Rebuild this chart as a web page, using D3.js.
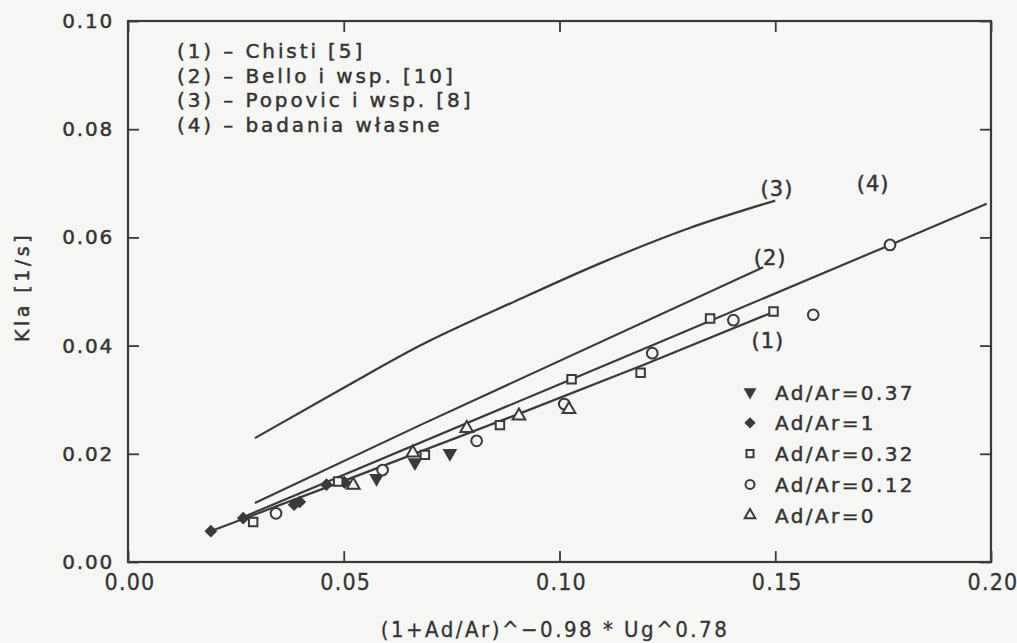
<!DOCTYPE html>
<html><head><meta charset="utf-8">
<script src="https://cdn.jsdelivr.net/npm/d3@7"></script>
<style>
html,body{margin:0;padding:0;background:#f6f6f4;}
svg{display:block;}
.t{font-family:"DejaVu Sans",sans-serif;fill:#333;stroke:#333;stroke-width:0.45px;}
.c{font-family:"Liberation Sans Narrow","DejaVu Sans Condensed","Liberation Sans",sans-serif;fill:#333;stroke:#333;stroke-width:0.3px;}
</style></head>
<body>
<svg id="chart" width="1017" height="643"></svg>
<script>
// ---- data ----
const xTicks = [0, 0.05, 0.10, 0.15, 0.20];
const yTicks = [0, 0.02, 0.04, 0.06, 0.08, 0.10];
const xTitle = "(1+Ad/Ar)^\u22120.98 * Ug^0.78";
const yTitle = "Kla [1/s]";

const refLegend = ["(1) \u2013 Chisti [5]", "(2) \u2013 Bello i wsp. [10]", "(3) \u2013 Popovic i wsp. [8]", "(4) \u2013 badania w\u0142asne"];

// correlation lines
const chistiX = [0.0192, 0.050, 0.090, 0.120, 0.1495];
const chistiY = [0.0057, 0.0150, 0.0272, 0.0366, 0.0462];
const belloX = [0.0294, 0.0677, 0.1472];
const belloY = [0.0109, 0.0253, 0.0545];
const popovicX = [0.0294, 0.050, 0.0677, 0.090, 0.1094, 0.130, 0.150];
const popovicY = [0.0229, 0.0322, 0.0400, 0.0483, 0.0552, 0.0617, 0.0668];
const ownX = [0.0267, 0.1028, 0.1766, 0.1990];
const ownY = [0.0083, 0.0338, 0.0586, 0.0662];
const lineLabels = ["(1)", "(2)", "(3)", "(4)"];
const lineLabelX = [0.1483, 0.1488, 0.1504, 0.1727];
const lineLabelY = [0.0410, 0.0564, 0.0691, 0.0701];

// measured points per Ad/Ar
const seriesNames = ["Ad/Ar=0.37", "Ad/Ar=1", "Ad/Ar=0.32", "Ad/Ar=0.12", "Ad/Ar=0"];
const s037X = [0.0576, 0.0665, 0.0746];
const s037Y = [0.0155, 0.0184, 0.0201];
const s1X = [0.0192, 0.0267, 0.0385, 0.0398, 0.0460, 0.0502];
const s1Y = [0.0057, 0.0081, 0.0106, 0.0111, 0.0143, 0.0147];
const s032X = [0.0290, 0.0487, 0.0688, 0.0862, 0.1028, 0.1188, 0.1349, 0.1496];
const s032Y = [0.0074, 0.0149, 0.0198, 0.0253, 0.0338, 0.0350, 0.0450, 0.0463];
const s012X = [0.0343, 0.0590, 0.0808, 0.1011, 0.1215, 0.1403, 0.1588, 0.1766];
const s012Y = [0.0090, 0.0170, 0.0224, 0.0292, 0.0386, 0.0447, 0.0457, 0.0586];
const s0X = [0.0522, 0.0660, 0.0785, 0.0906, 0.1022];
const s0Y = [0.0142, 0.0202, 0.0247, 0.0270, 0.0282];

// ---- drawing ----
const svg = d3.select("#chart");
const L = 128, T = 21, R = 991, B = 562;
const x = d3.scaleLinear().domain([0, 0.2]).range([L, R]);
const y = d3.scaleLinear().domain([0, 0.1]).range([B, T]);
const ink = "#3a3a3a";
const bg = "#f6f6f4";

const zip = (a, b) => a.map((v, i) => [v, b[i]]);

// frame
svg.append("rect").attr("x", L).attr("y", T).attr("width", R - L).attr("height", B - T)
  .attr("fill", "none").attr("stroke", ink).attr("stroke-width", 2.2);

const tickLen = 11;
const fmt = d3.format(".2f");
const gx = svg.append("g").attr("transform", `translate(0,${B})`)
  .call(d3.axisTop(x).tickValues(xTicks).tickSize(tickLen).tickFormat(""));
const gxt = svg.append("g").attr("transform", `translate(0,${T})`)
  .call(d3.axisBottom(x).tickValues(xTicks).tickSize(tickLen).tickFormat(""));
const gy = svg.append("g").attr("transform", `translate(${L},0)`)
  .call(d3.axisRight(y).tickValues(yTicks).tickSize(tickLen).tickFormat(""));
const gyr = svg.append("g").attr("transform", `translate(${R},0)`)
  .call(d3.axisLeft(y).tickValues(yTicks).tickSize(tickLen).tickFormat(""));
[gx, gxt, gy, gyr].forEach(g => {
  g.select(".domain").remove();
  g.selectAll(".tick line").attr("stroke", ink).attr("stroke-width", 1.8);
});

// tick labels
svg.append("g").selectAll("text").data(xTicks).join("text")
  .attr("class", "c").attr("x", d => x(d) + 2).attr("y", 590)
  .attr("text-anchor", "middle").attr("font-size", 23).attr("letter-spacing", 1.2)
  .text(d => fmt(d));
svg.append("g").selectAll("text").data(yTicks).join("text")
  .attr("class", "t").attr("x", 114).attr("y", d => y(d) + 7)
  .attr("text-anchor", "end").attr("font-size", 20).attr("letter-spacing", 1.8)
  .text(d => fmt(d));

// axis titles
svg.append("text").attr("class", "c").attr("x", 555).attr("y", 637)
  .attr("text-anchor", "middle").attr("font-size", 22).attr("letter-spacing", 2.5)
  .text(xTitle);
svg.append("text").attr("class", "t")
  .attr("transform", "translate(29,287) rotate(-90)")
  .attr("text-anchor", "middle").attr("font-size", 19).attr("letter-spacing", 3.5)
  .text(yTitle);

// correlation lines
const line = d3.line().x(d => x(d[0])).y(d => y(d[1])).curve(d3.curveMonotoneX);
[[chistiX, chistiY], [belloX, belloY], [popovicX, popovicY], [ownX, ownY]].forEach(([a, b]) => {
  svg.append("path").attr("d", line(zip(a, b))).attr("fill", "none")
    .attr("stroke", ink).attr("stroke-width", 2.2);
});
svg.append("g").selectAll("text").data(lineLabels).join("text")
  .attr("class", "t").attr("x", (d, i) => x(lineLabelX[i])).attr("y", (d, i) => y(lineLabelY[i]) + 8)
  .attr("text-anchor", "middle").attr("font-size", 21).attr("letter-spacing", 1)
  .text(d => d);

// markers
const shapes = [
  {type: d3.symbolTriangle, size: 55, rot: 180, fill: true},
  {type: d3.symbolSquare, size: 50, rot: 45, fill: true},
  {type: d3.symbolSquare, size: 72, rot: 0, fill: false},
  {type: d3.symbolCircle, size: 90, rot: 0, fill: false},
  {type: d3.symbolTriangle, size: 70, rot: 0, fill: false}
];
const allSeries = [zip(s037X, s037Y), zip(s1X, s1Y), zip(s032X, s032Y), zip(s012X, s012Y), zip(s0X, s0Y)];
function drawMarker(g, k, px, py, scale) {
  const s = shapes[k];
  g.append("path")
    .attr("d", d3.symbol().type(s.type).size(s.size * (scale || 1))())
    .attr("transform", `translate(${px},${py}) rotate(${s.rot})`)
    .attr("fill", s.fill ? ink : bg)
    .attr("stroke", ink).attr("stroke-width", 2);
}
const gm = svg.append("g");
allSeries.forEach((ser, k) => ser.forEach(d => drawMarker(gm, k, x(d[0]), y(d[1]))));

// marker legend
const lg = svg.append("g");
seriesNames.forEach((n, i) => {
  const yy = 392 + i * 30.8;
  drawMarker(lg, i, 750, yy, 0.7);
  lg.append("text").attr("class", "t").attr("x", 775).attr("y", yy + 7.5)
    .attr("font-size", 20).attr("letter-spacing", 2.4).text(n);
});

// reference legend
refLegend.forEach((s, i) => {
  svg.append("text").attr("class", "t").attr("x", 177).attr("y", 58 + i * 24.5)
    .attr("font-size", 20).attr("letter-spacing", 2.9).attr("xml:space", "preserve")
    .text(s);
});
</script>
</body></html>
